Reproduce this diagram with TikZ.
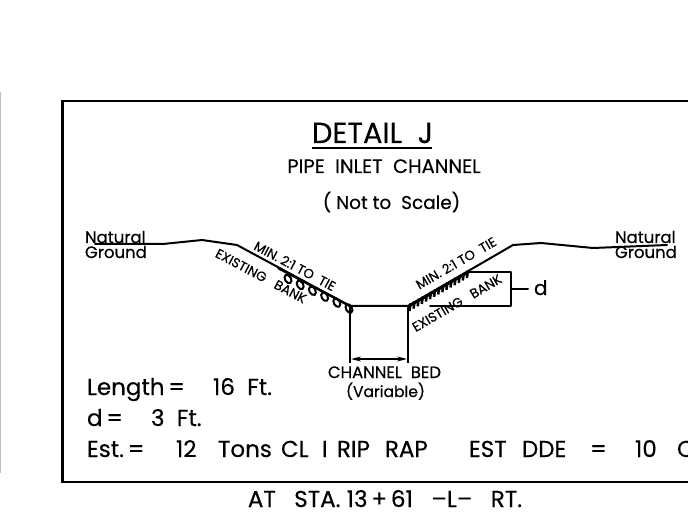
\documentclass[tikz,border=0pt]{standalone}
\usetikzlibrary{arrows.meta}
\usepackage{fontspec}
\setmainfont[FakeBold=0.35]{Poppins}
\newcommand{\fld}[2]{\makebox[#1pt][l]{#2}}
\newcommand{\fs}[1]{\fontsize{#1}{#1}\selectfont}
\tikzset{
  txt/.style={inner sep=0pt,outer sep=0pt,text=black},
  titletxt/.style={txt,font=\fs{29}},
  mid/.style={txt,font=\fs{18.5}},
  qty/.style={txt,font=\fs{23}},
  sml/.style={txt,font=\fs{16.5}},
  slope/.style={txt,font=\fs{13.2}},
  ln/.style={line width=2pt,line join=round,line cap=round},
  frame/.style={line width=2.2pt,line join=miter}
}
\begin{document}
\begin{tikzpicture}[x=1pt,y=-1pt]
\useasboundingbox (0,0) rectangle (688,529);
\fill[white] (0,0) rectangle (688,529);
% left sheet edge
\draw[line width=1pt,black!25] (0.5,92) -- (0.5,473);
% frame
\draw[frame] (688,101) -- (62.5,101) -- (62.5,482) -- (688,482);
% titles
\node[titletxt,anchor=base] (title) at (372.5,143) {DETAIL\ \ J};
\draw[line width=2pt] (312,148) -- (432,148);
\node[txt,font=\fs{19.5},anchor=base] (sub) at (384,173) {PIPE\ \ INLET\ \ CHANNEL};
\node[mid,anchor=base] (nts) at (391.5,209) {( Not to\ \ Scale)};
% ground line
\draw[ln] (95,244) -- (163,244) -- (202,240) -- (237,245) -- (350,306) -- (408,306)
  -- (513,245) -- (541,243) -- (593,248) -- (667,245);
% channel walls and dimension
\draw[line width=2pt] (350,306) -- (350,363);
\draw[line width=2pt] (408,306) -- (408,363);
\draw[line width=1.4pt,{Stealth[length=10pt,width=5pt]}-{Stealth[length=10pt,width=5pt]}] (351,359) -- (407,359);
% d box
\draw[ln] (468,272) -- (511,272) -- (511,306) -- (430,306);
\draw[ln] (511,289) -- (528,289);
\node[txt,font=\fs{20},anchor=base west] (dlab) at (534,295) {d};
% riprap left
\foreach \t in {0,1,...,5}{
  \pgfmathsetmacro{\cx}{288+\t*12.2}
  \pgfmathsetmacro{\cy}{279+\t*5.9}
  \draw[line width=2pt,rotate around={-60:(\cx,\cy)}] (\cx,\cy) ellipse (4.6pt and 3pt);
}
\draw[line width=2.4pt] (278,268) -- (350,306);
% riprap right
\draw[line width=3pt] (409,306) -- (470,271);
\foreach \t in {0,1,...,14}{
  \pgfmathsetmacro{\cx}{409.5+\t*4.1}
  \pgfmathsetmacro{\cy}{311-\t*2.35}
  \draw[line width=2.5pt] (\cx,\cy) -- ++(1,-7.5);
}
% Natural Ground
\node[sml,anchor=base west] (nat) at (85,243) {Natural};
\node[sml,anchor=base west] (gnd) at (85,258) {Ground};
\node[sml,anchor=base west] (nat2) at (615,243) {Natural};
\node[sml,anchor=base west] (gnd2) at (615,258) {Ground};
% slope labels
\node[slope,rotate=-28] (m1) at (295,266) {MIN. 2:1 TO\ \ TIE};
\node[slope,rotate=-28] (e1) at (261,276) {EXISTING\ \ \ BANK};
\node[slope,rotate=30] (m2) at (456,263) {MIN. 2:1 TO\ \ TIE};
\node[slope,rotate=30] (e2) at (457,303) {EXISTING\ \ \ BANK};
% channel bed
\node[sml,anchor=base] (cb) at (384.5,378) {CHANNEL\ \ BED};
\node[txt,font=\fs{15.5},anchor=base] (var) at (385.5,397) {(Variable)};
% quantities
\node[qty,anchor=base west] (len) at (87,395) {\fld{126}{Length\,=}16\ \ Ft.};
\node[qty,anchor=base west] (dd) at (87,426) {\fld{64}{d\,=}3\ \ Ft.};
\node[qty,anchor=base west] (est) at (87,457) {\fld{89}{Est.\,=}\fld{42}{12}\fld{63}{Tons}\fld{41}{CL}\fld{15}{I}\fld{48}{RIP}\fld{84}{RAP}\fld{53}{EST}\fld{68}{DDE}\fld{45}{=}\fld{42}{10}C};
\node[qty,anchor=base] (sta) at (385,507) {AT\ \ \ STA.\ 13\,+\,61\ \ \ --L--\ \ \ RT.};
\end{tikzpicture}
\end{document}
